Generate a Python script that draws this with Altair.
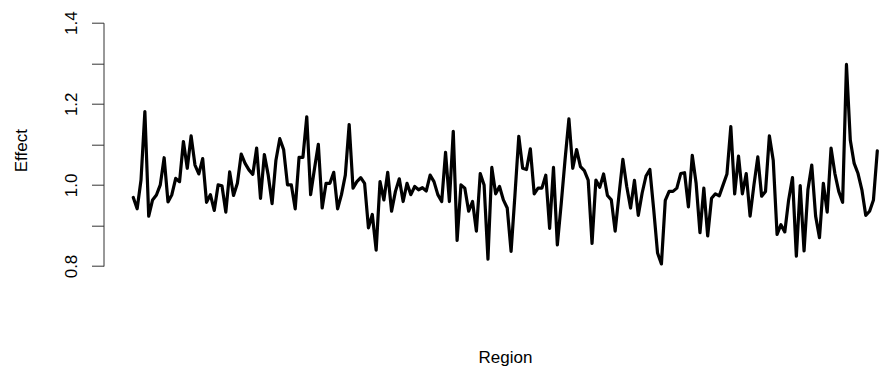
import json
import altair as alt
import pandas as pd

# Effect values, in region order
effect_part1 = [0.969, 0.941, 1.012, 1.181, 0.923, 0.963, 0.975, 1.000, 1.067, 0.958,
                0.976, 1.016, 1.008, 1.107, 1.041, 1.121, 1.049, 1.027, 1.065, 0.957,
                0.976, 0.937, 1.000, 0.998, 0.933, 1.032, 0.974, 1.004, 1.076, 1.053,
                1.037, 1.026, 1.091, 0.967, 1.075, 1.024, 0.954, 1.061, 1.114, 1.087,
                1.000, 1.000, 0.941, 1.068, 1.068, 1.168]
effect_part2 = [0.976, 1.040, 1.100, 0.943, 1.004, 1.004, 1.031, 0.941, 0.976, 1.024,
                1.149, 0.992, 1.008, 1.018, 1.004, 0.894, 0.927, 0.839, 1.008, 0.963,
                1.031, 0.935, 0.984, 1.015, 0.959, 1.004]
effect_part3 = [0.976, 0.996, 0.988, 0.993, 0.985, 1.024, 1.008, 0.976, 0.959, 1.080,
                0.959, 1.132, 0.863, 1.000, 0.992, 0.935, 0.959, 0.886, 1.028, 1.000,
                0.817]
effect_part4 = [1.043, 0.978, 0.996, 0.963, 0.943, 0.836, 0.975, 1.120, 1.041, 1.038,
                1.089, 0.978, 0.992, 0.992, 1.024, 0.893, 1.043, 0.852, 0.953, 1.062,
                1.163, 1.041, 1.087, 1.045, 1.035, 1.012, 0.856, 1.012, 0.994, 1.027,
                0.974, 0.963, 0.886, 0.976, 1.063, 0.996, 0.943, 1.011, 0.925, 0.980,
                1.022, 1.038, 0.939, 0.832, 0.805]
effect_part5 = [0.962, 0.984, 0.984, 0.992, 1.028, 1.030, 0.946, 1.073, 1.004, 0.882,
                0.992, 0.874, 0.967, 0.978, 0.973, 1.000, 1.027, 1.144, 0.978, 1.071,
                0.978, 1.028, 0.923, 1.000, 1.069, 0.972, 0.984, 1.121, 1.061, 0.878,
                0.902, 0.884, 0.963, 1.018, 0.824, 0.998, 0.837, 0.988, 1.049, 0.923,
                0.870, 1.004, 0.933, 1.091, 1.028, 0.984, 0.957, 1.297, 1.110, 1.053,
                1.028, 0.988, 0.925, 0.935, 0.963, 1.084]

effect = effect_part1 + effect_part2 + effect_part3 + effect_part4 + effect_part5
region = list(range(1, len(effect) + 1))

y_ticks = [0.8, 0.9, 1.0, 1.1, 1.2, 1.3, 1.4]
y_labeled = ["0.8", "1.0", "1.2", "1.4"]

df = pd.DataFrame({"Region": region, "Effect": effect})

FONT = "Liberation Sans"
FS = 17

label_expr = ("indexof(%s, format(datum.value, '.1f')) >= 0 ? format(datum.value, '.1f') : ''"
              % json.dumps(y_labeled).replace('"', "'"))

chart = alt.Chart(df).mark_line(
    color="black", strokeWidth=3.2, strokeJoin="round", strokeCap="round"
).encode(
    x=alt.X("Region:Q",
            scale=alt.Scale(domain=[-6.73, 194.44], nice=False, zero=False),
            axis=alt.Axis(labels=False, ticks=False, domain=False, grid=False,
                          title="Region", titleX=401.5, titleY=96,
                          titleAlign="center", titleBaseline="alphabetic",
                          titleFont=FONT, titleFontSize=FS, titleFontWeight="normal",
                          titleColor="black")),
    y=alt.Y("Effect:Q",
            scale=alt.Scale(domain=[0.8, 1.4], nice=False, zero=False),
            axis=alt.Axis(values=y_ticks, labelExpr=label_expr, labelAngle=270,
                          labelAlign="center", labelBaseline="alphabetic",
                          labelPadding=15.5, tickSize=12, tickColor="#333",
                          domainColor="#333", grid=False, labelOverlap=False,
                          labelFlush=False, labelFont=FONT, labelFontSize=FS,
                          labelColor="black",
                          title="Effect", titleAngle=270, titleX=-77.5, titleY=127.5,
                          titleAlign="center", titleBaseline="alphabetic",
                          titleFont=FONT, titleFontSize=FS, titleFontWeight="normal",
                          titleColor="black"))
).properties(
    width=775.5, height=243.3,
    padding={"left": 103.5, "top": 22.7, "right": 0, "bottom": 117},
    autosize=alt.AutoSizeParams(type="none"),
    background="white"
).configure_view(stroke=None)

chart.save("out.html", embed_options={"renderer": "svg", "actions": False})
